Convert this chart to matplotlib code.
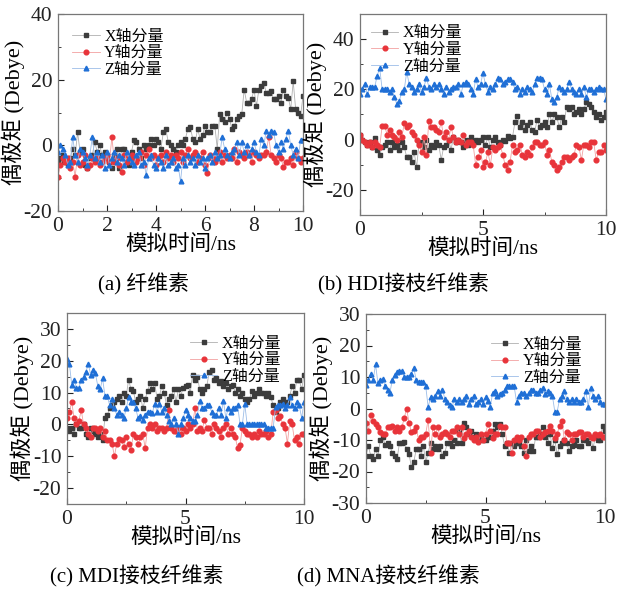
import numpy as np
import matplotlib
matplotlib.use("Agg")
import matplotlib.pyplot as plt
from matplotlib.ticker import MultipleLocator

plt.rcParams['font.family'] = ['Liberation Serif', 'Noto Sans CJK SC']
plt.rcParams['axes.unicode_minus'] = False

t = np.round(np.arange(0, 10.01, 0.1), 1)

# (a) 纤维素
a_x = [-4, -5, -3, -5, -6, -4, -1, -3, 4, -2,
       -1, -6, -7, -4, -3, 1, -2, 0, -3, -2,
       -4, -5, -7, -3, -1, -7, -1, -1, -5, -6,
       -2, 1.5, 1, -1, -4, 0, -1, 0, 2, 0,
       2, 1, -1, 4, 5, 1, 0, -1, -2, 0,
       1, 0, 2, 5, 5.5, 2, 1, 5, 2, 3,
       6, 4, 4, 6, 6, -1, 9.5, 8, 7, 10,
       8, 5, 6, 8, 9, 9.5, 17, 13, 13, 14,
       17, 12, 17, 18, 19, 16, 16, 16.5, 14, 14,
       15, 13, 17, 15, 14.5, 11, 19.5, 11, 10, 9,
       15]
a_y = [-9.5, -6, -4, -5, -4, -7, -5, -9.5, -3, -6,
       -5, -3, -7, -6, -4, -5, -4, -6, -5, -4,
       -3, -5, 2.5, -5, -4, -6, -8, -3, -5, -4,
       -3, -4, -5, -4, -2, -6, -3, -1, -4, -3,
       -6, -4, -3, -5, -2, -4, -3, -5, -3, -4,
       -2, -5, -3, -1, -4, -3, -2, -5, -4, -2,
       -6, -8.5, -3, -4, -5, -4, -2, -5, -3, -4,
       -3, -4, -1, -5, -2, -3, -4, -2, -3, -5,
       -2, -3, -4, -3, -3, -2, 2.5, -3, -4, -5,
       -3, -4, -6.5, -5, -5, -4, -6, -2, -4, -5,
       -4]
a_z = [-2, 0, -1, -3, -6, -5, 2.5, -3, -5, -1,
       -2, -4, -6, -3, 2.5, -4, -2, -5, -3, -7,
       -2, -6, -4, -2, -5, -3, -4, -6, -2, -4,
       -5, -6, -3, -2, -6, -5, -9, -4, -3, -6,
       -7, -4, -5, -7, -3, -6, -5, -4, -7, -6,
       -11, -4, -6, -3, -5, -4, -6, -3, -5, -4,
       -7, -4, -3, -5, -2, -4, -3, 2.5, -1, -3,
       -4, -2, -1, 1, -3, 1, -2, 0, -3, -1,
       1, -2, -3, 2, 0, 4.5, 3, 4.5, 4, 0,
       -2, 1, -1, 2, 4.5, 0, -3, -1, -4, 1.5,
       1.5]

# (b) HDI接枝纤维素
b_x = [2, 0, -1, -2, -1, -3, 0.5, -4, -6, -3,
       -2, -1, -4, -1, -3, -2, -4, -1, -3, -7,
       -7, -9, -5, -11, -1.5, -1, -3, 0, -4, -2,
       -3, -1, -2, -8, -3, -2, 0, -4, 1, -1,
       0, -1, -3, 0, -2, 1, -1, 0, -1, 0,
       1, -2, 1, -3, 0, 1, -1, -2, 0, -0.5,
       1.5, 0.5, 1, 7, 9.5, 5, 7, 4, 6, 7,
       4, 3, 8, 5, 6, 7, 5, 10, 7, 10,
       9, 5, 9, 7, 13, 12, 13, 10, 11, 12,
       10, 12, 15, 14, 13, 11, 9, 10, 8, 9,
       11]
b_y = [2, 0, -1, -2, -1, -3, -1, -2, -3, 5.5,
       5.5, 2, 4, 2, 1, 0, 3, 1, 6.5, 5,
       6, 3, 2, 0, -2, -5, 1, -6, 7.5, 5,
       5, 4, 3, 7, 1, 3, 0, 5, 1, -1,
       0, -1, 2, -2, -1, -1, -2, -10, -7, -4,
       -11, -9, -5, -10, -3, -4, -3, -2, -6, -10,
       -12, -9, -2, -5, -4, -2, -6, -7, -5, -6,
       -3, -1, -1, -2, -2, -1, -6, -4, -9, -10,
       -12, -11, -9, -7, -7, -8, -7, -6, -2, -3,
       -8, -2, -2, -3, -1, -1, -8, -5, -5, -2,
       -4]
b_z = [18, 20, 22, 18, 21, 21, 21, 25.5, 28.5, 20,
       20, 20, 19, 20, 17, 14, 15.5, 19, 20, 27,
       22, 21, 19, 20, 22, 19, 21, 24.5, 21, 20,
       22, 21, 22, 20, 18, 21, 19, 20, 21, 21,
       22, 18, 22, 23, 22, 20, 18, 24, 21, 22,
       26.5, 22, 19, 21, 20, 22, 24.5, 24, 22, 23,
       24, 24, 23, 20, 21, 18, 20, 19, 21, 20,
       19, 22, 24.5, 24.5, 24, 20, 18, 22, 16, 15,
       17, 21, 20, 19, 20, 23, 20, 19, 18, 20,
       18, 21, 17, 20, 20, 19, 20, 21, 20, 20,
       16]

# (c) MDI接枝纤维素
c_x = [-1, -2, -1, -3, 0, -1, -1, 0, -3, -4,
       -1, -2, -3, -4, -3, -5, 2, 3, 5, 6,
       7, 8, 9, 7, 10, 9, 14, 11, 10.5, 7,
       8, 9, 5, 8, 10.5, 13, 11, 13, 8, 9,
       12, 10, 6, 8, 9, 11, 7, 11, 9, 11.5,
       12, 12.5, 10, 15.5, 14, 15, 11, 10, 11, 12,
       16.5, 17, 14, 14.5, 13, 13.5, 12, 13, 11, 12,
       12.5, 10, 11, 9, 10, 8, 7, 8, 10.5, 9,
       10, 11, 10, 10, 9, 10, 8.5, 6, 4, 5,
       7, 8, 6.5, 7, 9, 12, 10, 14, 14, 11,
       15.5]
c_y = [2, 4, 7, 2, 0, 1, 4.5, 0, -1, -3,
       -4, -1, -1, -2, -1, -4, -2, -5, -5, -6,
       -10, -6, -4.5, -5, -7, -4, -6, -8, -3, -4,
       -6, -4, -3, -7.5, -1, 0, -1, 0, -2, -1,
       -1, -2, -1, 4.5, -1, -2, -2, -1, -3, -1,
       -2, 0, -1, 0, 5, -2, -1, -2, 1.5, -1,
       -1, -3, 0, -1, -2, -4, -1, 0, -3, -1,
       -3, -4, -7.5, -6.5, -1, -2, -3, -3, -4, -3,
       -4, -2, -3, -3, -2, -4, -3, 4, 4.5, 2,
       2.5, 0, -1, -6, 1, 0, -5, -4, -6, -3,
       -3]
c_z = [20.5, 19, 12.5, 14, 11.5, 11.5, 14, 15, 16.5, 19,
       15.5, 17, 16, 12, 11, 14.5, 9, 9, 6, 8,
       5, 3, 4, 3, 2, 5, 8.5, 7, 7, 5,
       2, 2.5, 1.5, 3, 4, 4, 3.5, 6.5, 4, 6.5,
       4, 5, 3, 1, 0, 2, 0, -3, 0, 2,
       4.5, 3, 2, 1, 1, 3, 7.5, 5, 5, 6,
       6, 4, 3, 3, 5, 3, 7.5, 2, 5, 4,
       5, 5, 6, 0, 0, 6.5, 0, 0, 0, 0,
       0, 0, 0, 0, -1, -1, -1, -1, 5.5, 6,
       6, 6.5, 5, 6, 8.5, 6, 5, 7, 6, 2,
       7]

# (d) MNA接枝纤维素
d_x = [-15, -12, -15, -16, -13, -15, -10, -9, -11.5, -11,
       -12, -14, -15, -16, -11, -11, -10.5, -13, -14.5, -18.5,
       -17, -13, -13, -15, -12, -17, -14, -11, -13, -12,
       -13, -12, -15, -14, -11, -11, -12, -10, -11, -7,
       -11, -4.5, -6, -8, -7, -9, -8, -10, -9, -10,
       -10, -9, -9, -7, -5, -6, -5, -8, -12, -11,
       -14, -11, -12, -11, -11, -12, -14, -10, -13.5, -12,
       -13.5, -9, -9, -8, -6, -9, -11, -8, -12.5, -10,
       -14.5, -12, -11, -10, -11, -13.5, -12, -11.5, -10, -12,
       -12, -10, -10, -11, -9, -12.5, -9, -10, -10, -5.5,
       -7]
d_y = [-4.5, -7, -2, -4, -5, -6, -7.5, -8, -8, -6,
       -6, -5.5, -7, -6, -7, -6, -3, 0, -4.5, -7.5,
       -7, -6, -10, -9, -9, -8, -3.5, -14, -6, -8,
       -6, -9, -8, -7.5, -8, -9, -7, -7, -6, -8,
       -6, -9.5, -8, -7, -9, -10, -9, -10.5, -8, -10,
       -8, -5, -7, -9.5, -8, -8, -5.5, -6, -6, -11,
       -11, -14, -10, -9, -10, -9, -12, -15, -9, -8,
       -8, -7, -7, -9, -8, -7.5, -7, -5.5, -7, -9.5,
       -8, -5.5, -4, -10, -7.5, -8, -10, -8, -8, -7.5,
       -7.5, -9, -8, -8, -9, -9.5, -8, -8.5, -8, -9,
       -9]
d_z = [7.5, 9, 11, 9, 14, 8, 9, 9.5, 7, 6,
       5, 9, 10.5, 11.5, 12, 12, 10, 10, 10, 11,
       13, 9, 8.5, 8.5, 8.5, 7, 0.5, 3.5, 3, 4,
       5.5, 4, 6, 3, 2, 1, 0.5, 3, 2, 3,
       2, 3, 4, 1.5, 3, 4, 1.5, 2, 3, 1.5,
       3.5, 2.5, 0.5, 5, 5.5, 4, 4.5, 5, 6, 7,
       7, 7, 7, 2, 4, 5, 5, 4, 5, 6,
       6, 5, 5, 6, 6.5, 4.5, 5.5, 5, 4, -1,
       -1, 3, 4, 5.5, 3, 2, 3, 2, 3, 2,
       2, 3, 5.5, 0.5, 6.5, 4, 3, 4, 2, 1.5,
       1.5]

labels = ['X轴分量', 'Y轴分量', 'Z轴分量']
captions = ['(a) 纤维素', '(b) HDI接枝纤维素', '(c) MDI接枝纤维素', '(d) MNA接枝纤维素']

W, H = 619, 595
fig = plt.figure(figsize=(W / 100, H / 100), dpi=100)

# panel boxes in pixels: left, right, top, bottom
boxes = [(58, 303, 14, 211), (360, 606, 14, 215), (67, 304, 313, 504), (366, 605, 314, 503)]
ylims = [(-20, 40), (-30, 50), (-25, 35), (-30, 30)]
ymajor = [20, 20, 10, 10]
xmajor = [2, 5, 5, 5]
legloc = ['upper left', 'upper left', 'upper right', 'upper right']
legpad = [0.5, 0.3, 1.0, 1.0]
data = [(a_x, a_y, a_z), (b_x, b_y, b_z), (c_x, c_y, c_z), (d_x, d_y, d_z)]
cap_pos = [(143, 284), (404, 284), (137, 576), (388, 576)]

styles = [dict(marker='s', color='#3c3c3c', lcolor='#b0b0b0'),
          dict(marker='o', color='#e8343a', lcolor='#f2a0a0'),
          dict(marker='^', color='#1f6fd6', lcolor='#9cbde8')]

for i in range(4):
    l, r, tp, bt = boxes[i]
    ax = fig.add_axes([l / W, 1 - bt / H, (r - l) / W, (bt - tp) / H])
    for vals, st, lab in zip(data[i], styles, labels):
        ax.plot(t, vals, '-', color=st['lcolor'], lw=0.6, marker=st['marker'],
                ms=3.4, mfc=st['color'], mec=st['color'], label=lab)
    ax.set_xlim(0, 10)
    ax.set_ylim(*ylims[i])
    ax.xaxis.set_major_locator(MultipleLocator(xmajor[i]))
    ax.xaxis.set_minor_locator(MultipleLocator(xmajor[i] / 2))
    ax.yaxis.set_major_locator(MultipleLocator(ymajor[i]))
    ax.yaxis.set_minor_locator(MultipleLocator(ymajor[i] / 2))
    ax.tick_params(which='both', direction='in', labelsize=15.5, colors='#222222')
    ax.tick_params(axis='x', pad=4)
    ax.tick_params(axis='y', pad=4)
    ax.tick_params(which='major', length=4, width=0.8)
    ax.tick_params(which='minor', length=2, width=0.6)
    for sp in ax.spines.values():
        sp.set_color('#777777')
        sp.set_linewidth(0.9)
    ax.set_xlabel('模拟时间/ns', fontsize=15.5, labelpad=0)
    ax.set_ylabel('偶极矩 (Debye)', fontsize=16, labelpad=-1)
    ax.legend(loc=legloc[i], frameon=False, fontsize=11.5, handlelength=1.7,
              handletextpad=0.3, labelspacing=0.05, borderaxespad=legpad[i])
    cx, cy = cap_pos[i]
    fig.text(cx / W, 1 - cy / H, captions[i], ha='center', va='center', fontsize=15)

fig.savefig('out.png', dpi=100)
